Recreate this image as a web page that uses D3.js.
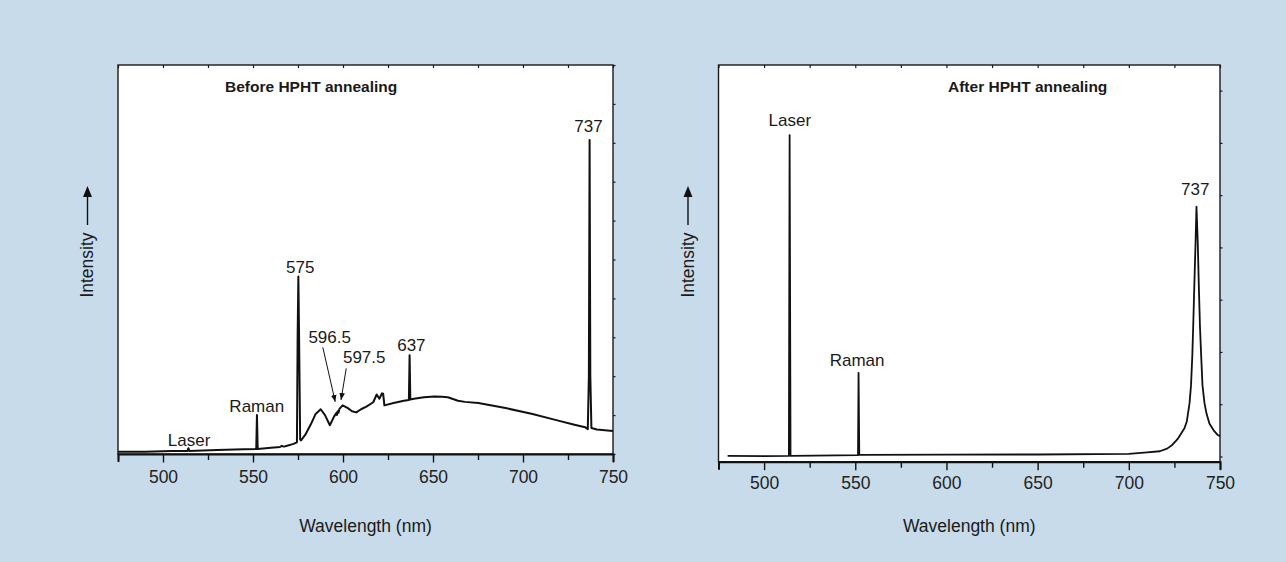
<!DOCTYPE html>
<html>
<head>
<meta charset="utf-8">
<script src="https://cdn.jsdelivr.net/npm/d3@7"></script>
<style>
  html, body { margin: 0; padding: 0; background: #c8dbeb; }
  svg { display: block; font-family: 'Liberation Sans', Arial, Helvetica, sans-serif; }
</style>
</head>
<body>
<svg id="chart" width="1286" height="562"></svg>
<script>
// x axis ticks (nm), every 25 nm, labels on the 50s
const wavelengthTicks = [475, 500, 525, 550, 575, 600, 625, 650, 675, 700, 725, 750]
const wavelengthLabels = [500, 550, 600, 650, 700, 750]

// spectrum before annealing (nm, arbitrary intensity)
const beforeNm = [
    475, 490, 505, 513.6, 514.1, 514.6, 530, 545, 551.8, 552.2, 552.6, 560,
    565, 566, 567, 568, 572.5, 574.4, 574.8, 575.2, 575.6, 576.2, 576.7, 579,
    582, 584.8, 587.6, 590, 592.7, 595, 596.3, 596.6, 597, 597.5, 598, 599.8,
    602.7, 605, 607.4, 610, 613, 616.8, 618.7, 620.2, 621.7, 622.3, 623, 628.1,
    633.8, 636.6, 637, 637.4, 639.4, 645, 650.7, 655, 658.2, 663.9, 667.7, 675.2,
    690.3, 705.3, 718.5, 728, 734.5, 736, 736.6, 737, 737.4, 738, 741, 750,
]
const beforeIntensity = [
    0.6, 0.6, 0.8, 0.8, 1.5, 0.8, 1.0, 1.2, 1.3, 10.0, 1.3, 1.6,
    1.8, 2.1, 1.9, 2.0, 2.6, 3.0, 30, 45.6, 30, 3.7, 3.5, 4.9,
    7.5, 10.3, 11.5, 10.0, 7.4, 9.6, 10.5, 10.0, 11.0, 10.6, 11.6, 12.5,
    11.8, 11.0, 10.7, 11.5, 12.2, 13.3, 15.3, 14.2, 15.6, 15.5, 12.5, 13.1,
    13.7, 13.9, 25.4, 14.0, 14.2, 14.6, 14.8, 14.7, 14.6, 13.7, 13.4, 13.1,
    11.8, 10.3, 8.7, 7.6, 6.9, 6.4, 20, 80.7, 20, 6.7, 6.3, 5.9,
]

// spectrum after annealing
const afterNm = [
    480, 500, 513.6, 514, 514.5, 540, 551.5, 551.8, 552.2, 553, 600, 650,
    700, 710, 717, 721, 723.8, 726.7, 728.7, 730.5, 731.8, 733.3, 734.1, 734.8,
    735.4, 735.9, 736.6, 737.1, 737.8, 738.4, 739, 739.7, 740.4, 741.5, 742.6, 744.2,
    746.5, 748.8, 750,
]
const afterIntensity = [
    0.1, 0.05, 0.1, 61.5, 0.13, 0.2, 0.25, 16.0, 0.3, 0.3, 0.36, 0.38,
    0.5, 0.8, 1.0, 1.5, 2.2, 3.3, 4.4, 5.4, 6.7, 10.2, 13.6, 19.1,
    26.0, 32.5, 41.0, 47.8, 41.0, 32.5, 25.0, 19.1, 13.6, 10.2, 8.2, 6.3,
    5.0, 4.1, 3.9,
]

// peak annotations: text, nm, intensity at text baseline
const beforeNotes = [
    { text: 'Laser', nm: 514.5, value: 2.1 },
    { text: 'Raman', nm: 552.1, value: 10.8 },
    { text: '575', nm: 576.2, value: 46.5 },
    { text: '596.5', nm: 592.6, value: 28.5 },
    { text: '597.5', nm: 611.8, value: 23.4 },
    { text: '637', nm: 638, value: 26.6 },
    { text: '737', nm: 736.4, value: 82.8 },
]
const beforeArrows = [
    { from: [588.8, 27.4], to: [595.7, 13.4] },
    { from: [601.8, 22.0], to: [598.9, 13.9] },
]
const afterNotes = [
    { text: 'Laser', nm: 514.1, value: 63.2 },
    { text: 'Raman', nm: 551, value: 17.3 },
    { text: '737', nm: 736.4, value: 50.0 },
]

const svg = d3.select('#chart')

svg.append('rect')
    .attr('width', 1286)
    .attr('height', 562)
    .attr('fill', '#c8dbeb')

const defs = svg.append('defs')
defs.append('marker')
    .attr('id', 'arrowhead')
    .attr('viewBox', '0 0 10 10')
    .attr('refX', 10)
    .attr('refY', 5)
    .attr('markerWidth', 7)
    .attr('markerHeight', 7)
    .attr('markerUnits', 'userSpaceOnUse')
    .attr('orient', 'auto')
    .append('path')
    .attr('d', 'M0,1 L10,5 L0,9 Z')
    .attr('fill', '#111')

function drawPanel(p) {
    const x = d3.scaleLinear().domain([475, 750]).range([p.left, p.right])
    const y = d3.scaleLinear().domain(p.yDomain).range([p.bottom, p.top])

    const g = svg.append('g')

    g.append('rect')
        .attr('x', p.left)
        .attr('y', p.top)
        .attr('width', p.right - p.left)
        .attr('height', p.bottom - p.top)
        .attr('fill', '#fff')
        .attr('stroke', '#1a1a1a')
        .attr('stroke-width', 1.4)

    // top inward ticks
    const topAxis = g.append('g')
        .attr('transform', `translate(0,${p.top})`)
        .call(d3.axisTop(x).tickValues(wavelengthTicks).tickSize(-3).tickFormat(''))
    topAxis.select('.domain').remove()
    topAxis.selectAll('line').attr('stroke', '#1a1a1a').attr('stroke-width', 1.2)

    // right small ticks
    const rightAxis = g.append('g')
        .attr('transform', `translate(${p.right},0)`)
        .call(d3.axisRight(y).ticks(p.yTicks).tickSize(2.5).tickFormat(''))
    rightAxis.select('.domain').remove()
    rightAxis.selectAll('line').attr('stroke', '#1a1a1a').attr('stroke-width', 1.2)

    // bottom axis
    const bottomAxis = g.append('g')
        .attr('transform', `translate(0,${p.bottom})`)
        .call(
            d3.axisBottom(x)
                .tickValues(wavelengthTicks)
                .tickSize(8)
                .tickFormat((d) => (wavelengthLabels.includes(d) ? d : ''))
        )
    bottomAxis.select('.domain')
        .attr('stroke', '#111')
        .attr('stroke-width', 2)
    bottomAxis.selectAll('.tick line')
        .attr('stroke', '#111')
        .attr('stroke-width', 1.4)
        .attr('y2', (d) => (wavelengthLabels.includes(d) ? 8.5 : 6))
    bottomAxis.selectAll('.tick text')
        .attr('y', p.labelOffset - 12)
        .attr('fill', '#222')
        .style('font-size', '17.5px')
        .style('font-family', "'Liberation Sans', Arial, sans-serif")

    // spectrum
    const line = d3.line()
        .x((d, i) => x(p.nm[i]))
        .y((d) => y(d))
    g.append('path')
        .datum(p.values)
        .attr('d', line)
        .attr('fill', 'none')
        .attr('stroke', '#111')
        .attr('stroke-width', p.lineWidth)
        .attr('stroke-linejoin', 'round')

    // annotations
    g.selectAll('.note')
        .data(p.notes)
        .enter()
        .append('text')
        .attr('class', 'note')
        .attr('x', (d) => x(d.nm))
        .attr('y', (d) => y(d.value))
        .attr('text-anchor', 'middle')
        .attr('fill', '#1a1a1a')
        .style('font-size', '17px')
        .text((d) => d.text)

    g.selectAll('.note-arrow')
        .data(p.arrows)
        .enter()
        .append('line')
        .attr('class', 'note-arrow')
        .attr('x1', (d) => x(d.from[0]))
        .attr('y1', (d) => y(d.from[1]))
        .attr('x2', (d) => x(d.to[0]))
        .attr('y2', (d) => y(d.to[1]))
        .attr('stroke', '#111')
        .attr('stroke-width', 1)
        .attr('marker-end', 'url(#arrowhead)')

    // title
    g.append('text')
        .attr('x', p.titleX)
        .attr('y', 92)
        .attr('fill', '#1a1a1a')
        .style('font-size', '15.5px')
        .style('font-weight', 'bold')
        .text(p.title)

    // x title
    g.append('text')
        .attr('x', (p.left + p.right) / 2)
        .attr('y', 532)
        .attr('text-anchor', 'middle')
        .attr('fill', '#1a1a1a')
        .style('font-size', '17.5px')
        .text('Wavelength (nm)')

    // y title with arrow
    const yt = g.append('g')
        .attr('transform', `translate(${p.left - 25},265) rotate(-90)`)
    yt.append('text')
        .attr('x', 0)
        .attr('y', 0)
        .attr('text-anchor', 'middle')
        .attr('fill', '#1a1a1a')
        .style('font-size', '17.5px')
        .text('Intensity')
    yt.append('line')
        .attr('x1', 40)
        .attr('x2', 70)
        .attr('y1', -5.5)
        .attr('y2', -5.5)
        .attr('stroke', '#111')
        .attr('stroke-width', 1.4)
    yt.append('path')
        .attr('d', 'M68,-10 L79,-5.5 L68,-1 Z')
        .attr('fill', '#111')
}

drawPanel({
    left: 118,
    right: 613,
    top: 65,
    bottom: 454,
    yDomain: [0, 100],
    yTicks: 10,
    labelOffset: 29,
    nm: beforeNm,
    values: beforeIntensity,
    notes: beforeNotes,
    arrows: beforeArrows,
    lineWidth: 2,
    title: 'Before HPHT annealing',
    titleX: 225,
})

drawPanel({
    left: 718.5,
    right: 1220,
    top: 65,
    bottom: 461.7,
    yDomain: [-1, 74.9],
    yTicks: 8,
    labelOffset: 26.5,
    nm: afterNm,
    values: afterIntensity,
    notes: afterNotes,
    arrows: [],
    lineWidth: 1.8,
    title: 'After HPHT annealing',
    titleX: 948,
})
</script>
</body>
</html>
